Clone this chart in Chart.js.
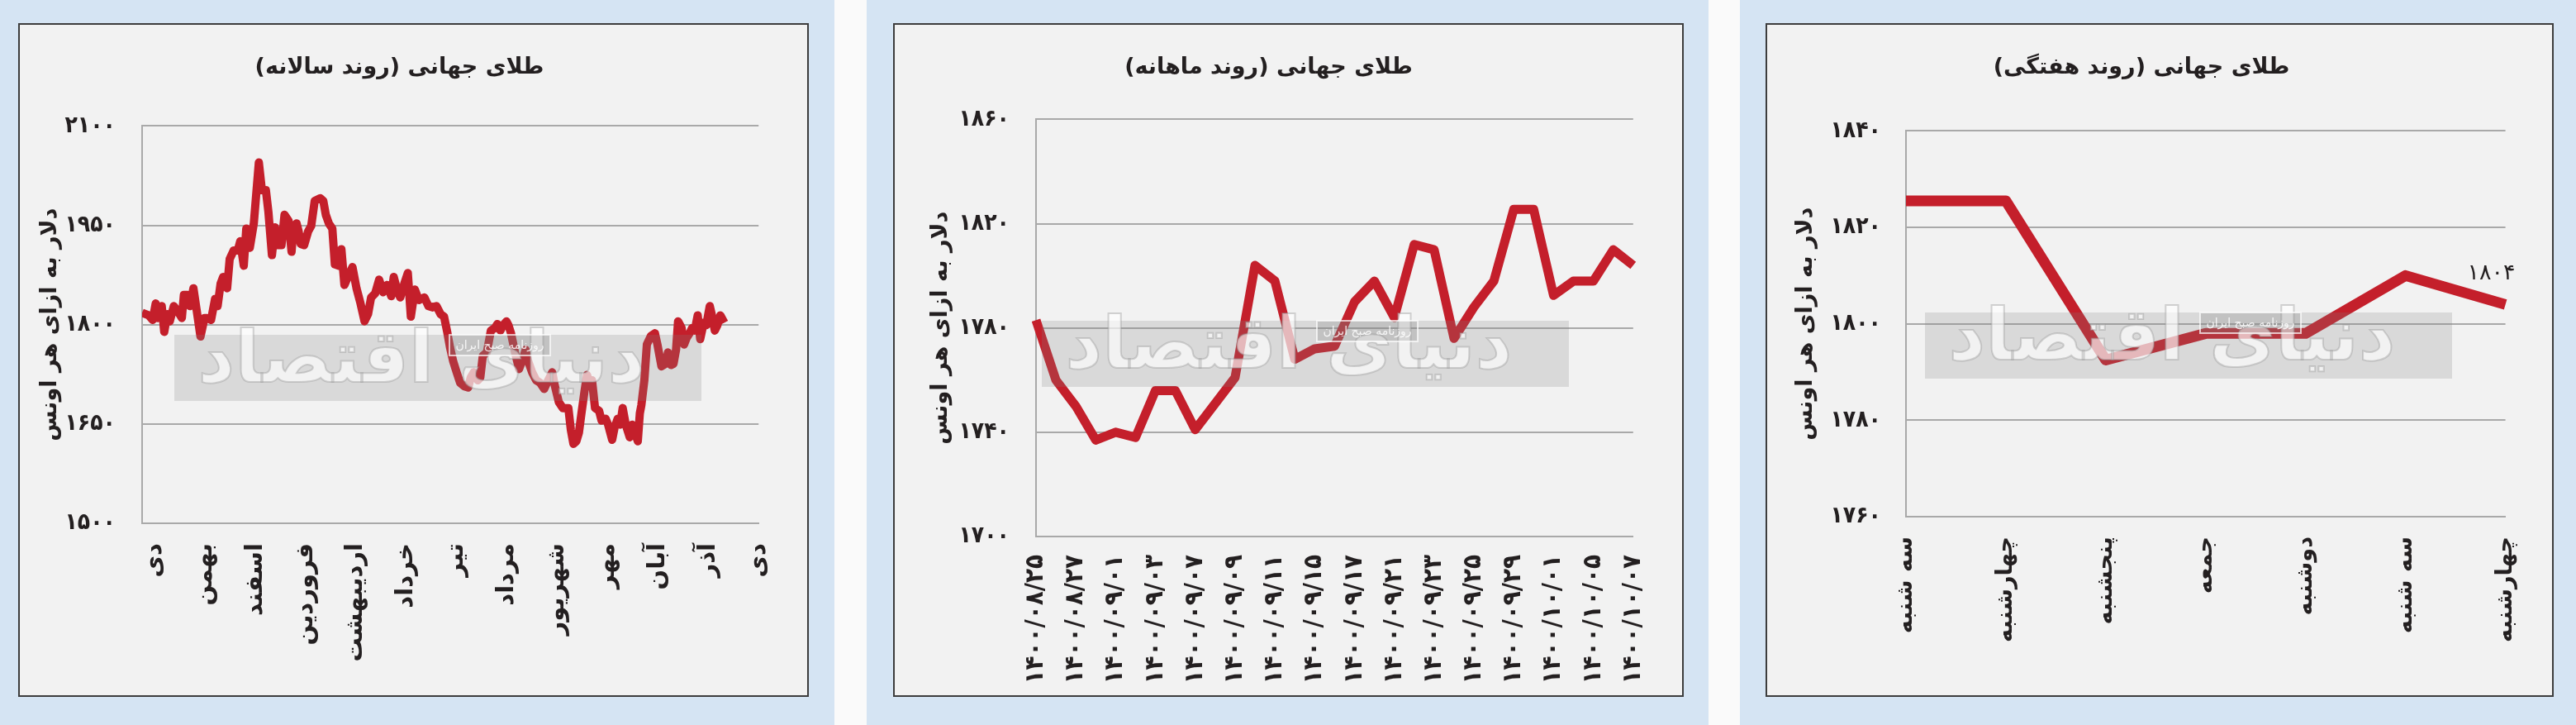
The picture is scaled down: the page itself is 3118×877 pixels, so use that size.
<!DOCTYPE html>
<html lang="fa">
<head>
<meta charset="utf-8">
<script src="https://cdn.jsdelivr.net/npm/chart.js@4.4.1/dist/chart.umd.min.js"></script>
<style>
  html, body { margin: 0; padding: 0; }
  body { width: 3118px; height: 877px; position: relative; background: #fafafa; overflow: hidden; }
  .card { position: absolute; top: 0; height: 877px; background: #d5e4f3; }
  .frame { position: absolute; top: 28px; height: 815px; box-sizing: border-box; border: 2px solid #3d3d3d; background: #f2f2f2; }
  .frame canvas { display: block; }
</style>
</head>
<body>
<div class="card" style="left:0;width:1010px"></div>
<div class="card" style="left:1049px;width:1019px"></div>
<div class="card" style="left:2106px;width:1012px"></div>
<div class="frame" style="left:22px;width:957px"><canvas id="yearChart" width="953" height="811"></canvas></div>
<div class="frame" style="left:1081px;width:957px"><canvas id="monthChart" width="953" height="811"></canvas></div>
<div class="frame" style="left:2137px;width:954px"><canvas id="weekChart" width="950" height="811"></canvas></div>
<script>
// yearly trend: month labels and price (position in months from دی)
const yearMonths = ['دی', 'بهمن', 'اسفند', 'فروردین', 'اردیبهشت', 'خرداد', 'تیر', 'مرداد', 'شهریور', 'مهر', 'آبان', 'آذر', 'دی'];
const yearPos = [-0.25, -0.12, -0.04, 0.02, 0.06, 0.14, 0.19, 0.25, 0.30, 0.38, 0.46, 0.54, 0.58, 0.65, 0.70, 0.77, 0.83, 0.91, 0.99,
  1.04, 1.12, 1.20, 1.25, 1.31, 1.36, 1.44, 1.49, 1.57, 1.65, 1.70, 1.77, 1.82, 1.89, 1.97, 2.07, 2.13, 2.21, 2.26, 2.33, 2.39,
  2.45, 2.52, 2.58, 2.66, 2.72, 2.76, 2.82, 2.86, 2.90, 2.97, 3.05, 3.11, 3.18, 3.29, 3.35, 3.40, 3.46, 3.53, 3.58, 3.66, 3.71,
  3.77, 3.85, 3.93, 4.01, 4.09, 4.17, 4.24, 4.30, 4.38, 4.46, 4.54, 4.62, 4.70, 4.75, 4.83, 4.88, 4.96, 5.03, 5.09, 5.17, 5.25,
  5.36, 5.44, 5.52, 5.60, 5.68, 5.75, 5.81, 5.87, 5.93, 6.00, 6.07, 6.15, 6.23, 6.28, 6.34, 6.42, 6.47, 6.52, 6.60, 6.68, 6.76,
  6.81, 6.87, 6.92, 6.99, 7.03, 7.08, 7.16, 7.24, 7.32, 7.37, 7.42, 7.50, 7.58, 7.66, 7.74, 7.82, 7.90, 7.95, 8.03, 8.11, 8.22,
  8.27, 8.32, 8.38, 8.43, 8.48, 8.54, 8.59, 8.64, 8.69, 8.75, 8.83, 8.88, 8.96, 9.01, 9.09, 9.14, 9.20, 9.25, 9.30, 9.36, 9.44,
  9.49, 9.54, 9.60, 9.64, 9.67, 9.73, 9.78, 9.86, 9.94, 9.99, 10.07, 10.15, 10.20, 10.26, 10.31, 10.36, 10.40, 10.47, 10.52,
  10.57, 10.63, 10.68, 10.73, 10.79, 10.84, 10.91, 10.96, 11.03, 11.08, 11.13, 11.18, 11.24, 11.32];
const yearPrice = [1818, 1814, 1807, 1832, 1810, 1828, 1789, 1816, 1805, 1828, 1820, 1810, 1845, 1845, 1828, 1855, 1824, 1782, 1810,
  1810, 1807, 1839, 1828, 1862, 1872, 1855, 1899, 1912, 1912, 1926, 1889, 1945, 1916, 1953, 2045, 2003, 2003, 1970, 1905, 1947,
  1920, 1920, 1966, 1957, 1910, 1949, 1953, 1941, 1922, 1920, 1941, 1949, 1987, 1991, 1987, 1966, 1953, 1945, 1891, 1889, 1914,
  1860, 1874, 1887, 1855, 1832, 1805, 1816, 1841, 1847, 1868, 1849, 1860, 1843, 1872, 1849, 1841, 1862, 1878, 1812, 1853, 1837,
  1841, 1828, 1826, 1828, 1816, 1812, 1790, 1765, 1745, 1728, 1712, 1707, 1705, 1720, 1728, 1716, 1720, 1753, 1758, 1791, 1795,
  1801, 1791, 1799, 1805, 1799, 1787, 1758, 1733, 1749, 1762, 1745, 1728, 1716, 1712, 1703, 1716, 1728, 1708, 1683, 1674, 1674,
  1641, 1620, 1624, 1637, 1666, 1699, 1724, 1712, 1716, 1674, 1670, 1655, 1658, 1649, 1626, 1645, 1658, 1649, 1674, 1649, 1630,
  1649, 1637, 1624, 1666, 1678, 1716, 1770, 1783, 1787, 1770, 1737, 1741, 1758, 1739, 1741, 1762, 1805, 1795, 1770,
  1780, 1787, 1795, 1791, 1814, 1778, 1803, 1799, 1828, 1812, 1791, 1799, 1814, 1803];
const yearTicks = [1500, 1650, 1800, 1950, 2100];

// monthly trend: one date label every second trading day
const monthDates = ['۱۴۰۰/۰۸/۲۵', '۱۴۰۰/۰۸/۲۷', '۱۴۰۰/۰۹/۰۱', '۱۴۰۰/۰۹/۰۳', '۱۴۰۰/۰۹/۰۷', '۱۴۰۰/۰۹/۰۹', '۱۴۰۰/۰۹/۱۱', '۱۴۰۰/۰۹/۱۵',
  '۱۴۰۰/۰۹/۱۷', '۱۴۰۰/۰۹/۲۱', '۱۴۰۰/۰۹/۲۳', '۱۴۰۰/۰۹/۲۵', '۱۴۰۰/۰۹/۲۹', '۱۴۰۰/۱۰/۰۱', '۱۴۰۰/۱۰/۰۵', '۱۴۰۰/۱۰/۰۷'];
const monthPrice = [1783, 1760, 1750, 1737, 1740, 1738, 1756, 1756, 1741, 1751, 1761, 1804, 1798, 1768, 1772, 1773,
  1790, 1798, 1784, 1812, 1810, 1776, 1788, 1798, 1825.5, 1825.5, 1792.5, 1798, 1798, 1810, 1804];
const monthTicks = [1700, 1740, 1780, 1820, 1860];

// weekly trend
const weekDays = ['سه شنبه', 'چهارشنبه', 'پنجشنبه', 'جمعه', 'دوشنبه', 'سه شنبه', 'چهارشنبه'];
const weekPrice = [1825.5, 1825.5, 1792.5, 1798, 1798, 1810, 1804];
const weekTicks = [1760, 1780, 1800, 1820, 1840];

const titles = ['طلای جهانی (روند سالانه)', 'طلای جهانی (روند ماهانه)', 'طلای جهانی (روند هفتگی)'];
const axisTitle = 'دلار به ازای هر اونس';

const faDigits = '۰۱۲۳۴۵۶۷۸۹';
function fa(n) { return String(n).replace(/[0-9]/g, d => faDigits[d]); }

const RED = '#c41f2b';
const GRID = '#a9a9a9';
const INK = '#231f20';
const FONT = '"DejaVu Sans", sans-serif';
const COND = '"DejaVu Sans Condensed", "DejaVu Sans", sans-serif';

// grey band + faded logo laid over the plot, like the newspaper watermark
const watermark = {
  id: 'watermark',
  afterDatasetsDraw(chart, args, opts) {
    const ctx = chart.ctx;
    const x = opts.x, y = opts.y, w = 638, h = 80;
    ctx.save();
    ctx.fillStyle = 'rgba(128,128,128,0.22)';
    ctx.fillRect(x, y, w, h);
    ctx.font = 'bold 100px ' + FONT;
    const tw = ctx.measureText('دنیای اقتصاد').width;
    const size = Math.round(100 * 540 / tw);
    ctx.font = 'bold ' + size + 'px ' + FONT;
    ctx.textAlign = 'center';
    ctx.textBaseline = 'middle';
    ctx.lineWidth = 2;
    ctx.strokeStyle = 'rgba(150,150,150,0.4)';
    ctx.fillStyle = 'rgba(255,255,255,0.65)';
    ctx.fillText('دنیای اقتصاد', x + w / 2 - 20, y + h / 2 - 6);
    ctx.strokeText('دنیای اقتصاد', x + w / 2 - 20, y + h / 2 - 6);
    ctx.fillStyle = 'rgba(128,128,128,0.25)';
    ctx.fillRect(x + 333, y, 122, 25);
    ctx.strokeStyle = 'rgba(255,255,255,0.7)';
    ctx.strokeRect(x + 333, y, 122, 25);
    ctx.fillStyle = 'rgba(255,255,255,0.85)';
    ctx.font = '14px ' + FONT;
    ctx.fillText('روزنامه صبح ایران', x + 394, y + 13);
    ctx.restore();
  }
};

// value written beside the last point of the weekly line
const lastLabel = {
  id: 'lastLabel',
  afterDatasetsDraw(chart, args, opts) {
    if (!opts.show) return;
    const meta = chart.getDatasetMeta(0);
    const pt = meta.data[meta.data.length - 1];
    const data = chart.data.datasets[0].data;
    const ctx = chart.ctx;
    ctx.save();
    ctx.font = '27px ' + FONT;
    ctx.fillStyle = INK;
    ctx.textAlign = 'right';
    ctx.textBaseline = 'bottom';
    ctx.fillText(fa(data[data.length - 1]), pt.x + 12, pt.y - 24);
    ctx.restore();
  }
};

function makeOptions(c) {
  const xTicks = {
    autoSkip: false,
    minRotation: 90,
    maxRotation: 90,
    padding: c.xPad,
    color: INK,
    font: c.xFont
  };
  if (c.xLabel) xTicks.callback = c.xLabel;
  return {
    responsive: false,
    animation: false,
    events: [],
    layout: { padding: { top: 0, left: 0, right: c.right, bottom: 0 } },
    plugins: {
      legend: { display: false },
      tooltip: { enabled: false },
      title: {
        display: true,
        text: c.title,
        color: INK,
        font: { family: FONT, size: 27, weight: 'bold', lineHeight: 1.2 },
        padding: { top: 36, bottom: c.titleBottom }
      },
      watermark: { x: c.wx, y: c.wy },
      lastLabel: { show: !!c.lastLabel }
    },
    scales: {
      x: Object.assign({
        grid: { display: false, drawTicks: false },
        border: { display: true, color: GRID, width: 2 },
        ticks: xTicks,
        afterFit(scale) { scale.height = c.xHeight; }
      }, c.x),
      y: {
        min: c.yTicks[0],
        max: c.yTicks[c.yTicks.length - 1],
        grid: { color: GRID, lineWidth: 2, drawTicks: false },
        border: { display: true, color: GRID, width: 2 },
        ticks: {
          padding: c.yPad,
          color: INK,
          font: { family: COND, size: 28, weight: 'bold' },
          callback: v => fa(v)
        },
        afterBuildTicks(scale) { scale.ticks = c.yTicks.map(v => ({ value: v })); },
        title: {
          display: true,
          text: axisTitle,
          color: INK,
          font: { family: FONT, size: 27, weight: 'bold', lineHeight: 1.2 },
          padding: { top: c.yTitlePad, bottom: 0 }
        },
        afterFit(scale) { scale.width = c.yWidth; }
      }
    }
  };
}

new Chart(document.getElementById('yearChart'), {
  type: 'line',
  data: {
    datasets: [{
      data: yearPos.map((x, i) => ({ x: x, y: yearPrice[i] })),
      borderColor: RED,
      borderWidth: 10,
      borderJoinStyle: 'round',
      pointRadius: 0,
      tension: 0
    }]
  },
  options: makeOptions({
    title: titles[0], titleBottom: 54, right: 34,
    yTicks: yearTicks, yWidth: 148, yPad: 32, yTitlePad: 21,
    xHeight: 208, xPad: 24,
    xFont: { family: FONT, size: 29, weight: 'bold' },
    xLabel: v => yearMonths[v],
    wx: 187, wy: 375,
    x: {
      type: 'linear',
      min: -0.25,
      max: yearMonths.length - 1,
      afterBuildTicks(scale) { scale.ticks = yearMonths.map((m, i) => ({ value: i })); }
    }
  }),
  plugins: [watermark, lastLabel]
});

new Chart(document.getElementById('monthChart'), {
  type: 'line',
  data: {
    labels: monthPrice.map((p, i) => i % 2 ? '' : monthDates[i / 2]),
    datasets: [{
      data: monthPrice,
      borderColor: RED,
      borderWidth: 11,
      borderJoinStyle: 'round',
      pointRadius: 0,
      tension: 0
    }]
  },
  options: makeOptions({
    title: titles[1], titleBottom: 46, right: 48,
    yTicks: monthTicks, yWidth: 171, yPad: 32, yTitlePad: 40,
    xHeight: 192, xPad: 22,
    xFont: { family: COND, size: 31, weight: 'bold' },
    wx: 178, wy: 358,
    x: {}
  }),
  plugins: [watermark, lastLabel]
});

new Chart(document.getElementById('weekChart'), {
  type: 'line',
  data: {
    labels: weekDays,
    datasets: [{
      data: weekPrice,
      borderColor: RED,
      borderWidth: 13,
      borderJoinStyle: 'round',
      pointRadius: 0,
      tension: 0
    }]
  },
  options: makeOptions({
    title: titles[2], titleBottom: 60, right: 44,
    yTicks: weekTicks, yWidth: 168, yPad: 30, yTitlePad: 31,
    xHeight: 216, xPad: 24,
    xFont: { family: FONT, size: 27, weight: 'bold' },
    wx: 191, wy: 348,
    lastLabel: true,
    x: {}
  }),
  plugins: [watermark, lastLabel]
});
</script>
</body>
</html>
